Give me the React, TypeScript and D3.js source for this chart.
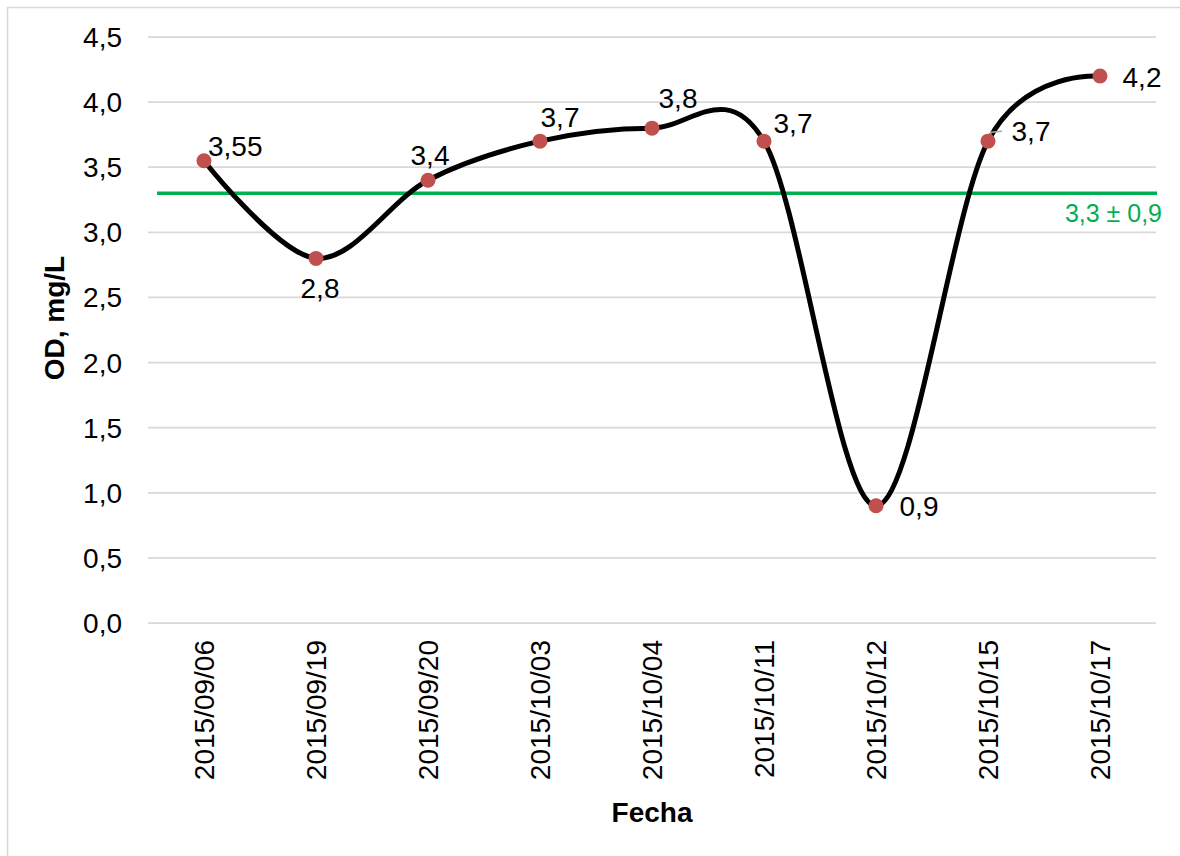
import React from "react";
import * as d3 from "d3";

// Dissolved oxygen readings per sampling date
const fechas = [
  "2015/09/06",
  "2015/09/19",
  "2015/09/20",
  "2015/10/03",
  "2015/10/04",
  "2015/10/11",
  "2015/10/12",
  "2015/10/15",
  "2015/10/17",
];
const od = [3.55, 2.8, 3.4, 3.7, 3.8, 3.7, 0.9, 3.7, 4.2];
const odLabels = ["3,55", "2,8", "3,4", "3,7", "3,8", "3,7", "0,9", "3,7", "4,2"];
const yTicks = [0, 0.5, 1, 1.5, 2, 2.5, 3, 3.5, 4, 4.5];
const referencia = 3.3;
const referenciaLabel = "3,3 ± 0,9";

// label placement relative to each marker (px): dx, dy, anchor
const labelPlacement: [number, number, string][] = [
  [4, -5, "start"],
  [4, 40, "middle"],
  [2, -15, "middle"],
  [20, -14, "middle"],
  [26, -20, "middle"],
  [29, -8, "middle"],
  [43, 10, "middle"],
  [43, 0, "middle"],
  [42, 11, "middle"],
];

const W = 1180;
const H = 856;
const plot = { left: 148, right: 1156, top: 37, bottom: 623 };
const FONT = "'Liberation Sans', Arial, sans-serif";

export default function App() {
  const x = d3
    .scaleBand<string>()
    .domain(fechas)
    .range([plot.left, plot.right])
    .padding(0);
  const cx = (c: string) => (x(c) as number) + x.bandwidth() / 2;
  const y = d3.scaleLinear().domain([0, 4.5]).range([plot.bottom, plot.top]);

  const pts: [number, number][] = fechas.map((f, i) => [cx(f), y(od[i])]);
  const line = d3.line().curve(d3.curveCatmullRom.alpha(0))(pts) as string;

  const fmt = (v: number) => d3.format(".1f")(v).replace(".", ",");

  return (
    <svg
      width={W}
      height={H}
      style={{ position: "absolute", left: 0, top: 0, background: "#fff" }}
      fontFamily={FONT}
    >
      <rect x={0} y={0} width={W} height={H} fill="#fff" />
      <rect
        x={7.5}
        y={7.5}
        width={W + 20}
        height={H + 20}
        fill="none"
        stroke="#d9d9d9"
        strokeWidth={1.5}
      />

      {/* horizontal gridlines and value axis labels */}
      {yTicks.map((t) => (
        <g key={t}>
          <line
            x1={plot.left}
            x2={plot.right}
            y1={y(t)}
            y2={y(t)}
            stroke="#d9d9d9"
            strokeWidth={1.75}
          />
          <text
            x={122}
            y={y(t) + 10}
            textAnchor="end"
            fontSize={28}
            fill="#000"
          >
            {fmt(t)}
          </text>
        </g>
      ))}

      {/* category labels, rotated */}
      {fechas.map((f) => (
        <text
          key={f}
          transform={`translate(${cx(f) + 10},${640}) rotate(-90)`}
          textAnchor="end"
          fontSize={28}
          fill="#000"
        >
          {f}
        </text>
      ))}

      {/* axis titles */}
      <text
        x={652}
        y={822}
        textAnchor="middle"
        fontSize={28}
        fontWeight="bold"
        fill="#000"
      >
        Fecha
      </text>
      <text
        transform={`translate(64,${318}) rotate(-90)`}
        textAnchor="middle"
        fontSize={28}
        fontWeight="bold"
        fill="#000"
      >
        OD, mg/L
      </text>

      {/* reference level */}
      <line
        x1={157}
        x2={plot.right + 1}
        y1={y(referencia)}
        y2={y(referencia)}
        stroke="#00b050"
        strokeWidth={3.5}
      />
      <text
        x={1162}
        y={y(referencia) + 29}
        textAnchor="end"
        fontSize={25}
        fill="#00b050"
      >
        {referenciaLabel}
      </text>

      {/* smoothed series */}
      <path d={line} fill="none" stroke="#000" strokeWidth={5} strokeLinejoin="round" />

      {/* leader line for the 2015/10/15 label */}
      <polyline
        points={`${pts[7][0] + 2},${pts[7][1] - 1} ${pts[7][0] + 3},${pts[7][1] - 9} ${pts[7][0] + 14},${pts[7][1] - 10}`}
        fill="none"
        stroke="#a6a6a6"
        strokeWidth={1.5}
      />

      {pts.map(([px, py], i) => (
        <circle key={i} cx={px} cy={py} r={7.5} fill="#c0504d" />
      ))}

      {pts.map(([px, py], i) => (
        <text
          key={`l${i}`}
          x={px + labelPlacement[i][0]}
          y={py + labelPlacement[i][1]}
          textAnchor={labelPlacement[i][2] as any}
          fontSize={28}
          fill="#000"
        >
          {odLabels[i]}
        </text>
      ))}
    </svg>
  );
}
